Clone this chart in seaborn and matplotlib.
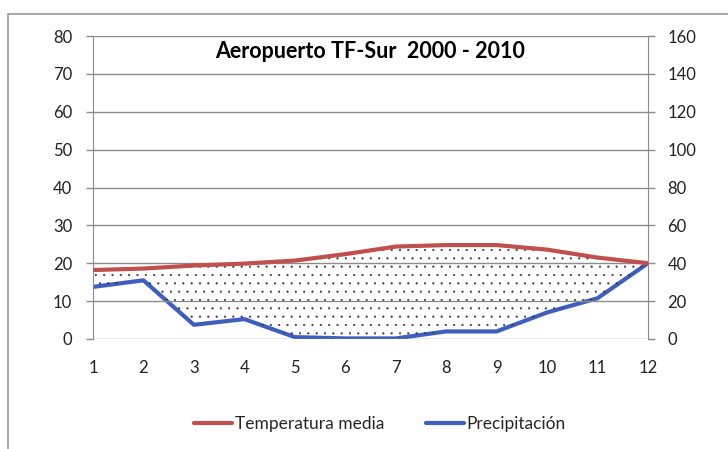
import numpy as np
import pandas as pd
import matplotlib
matplotlib.use("Agg")
import matplotlib.pyplot as plt
from matplotlib.lines import Line2D
import seaborn as sns

# --- Data ---
months = [1, 2, 3, 4, 5, 6, 7, 8, 9, 10, 11, 12]
temp_media = [18.2, 18.6, 19.4, 19.9, 20.7, 22.4, 24.4, 24.8, 24.8, 23.6, 21.5, 20.0]
precipitacion = [27.5, 31.0, 7.5, 10.5, 1.0, 0.3, 0.3, 4.0, 4.0, 14.0, 21.5, 40.0]
left_ticks = [0, 10, 20, 30, 40, 50, 60, 70, 80]
right_ticks = [0, 20, 40, 60, 80, 100, 120, 140, 160]
titulo = "Aeropuerto TF-Sur  2000 - 2010"

df = pd.DataFrame({"Mes": months, "Temperatura media": temp_media,
                   "Precipitación": precipitacion})

sns.set_style("white")
plt.rcParams['font.family'] = ['Lato', 'DejaVu Sans']
plt.rcParams['hatch.linewidth'] = 0.3

red = "#C0504D"
blue = "#3F5FBF"
grid_c = "#8C8C8C"

fig = plt.figure(figsize=(7.28, 4.49), dpi=100)
ax = fig.add_axes([0.1277, 0.245, 0.7623, 0.6748])
ax2 = ax.twinx()

# dry period stipple between temperature and precipitation (P = 2T scale)
p_half = df["Precipitación"] / 2
ax.fill_between(df["Mes"], df["Temperatura media"], p_half,
                where=df["Temperatura media"] >= p_half, interpolate=True,
                facecolor="none", edgecolor="#333333", hatch="..", linewidth=0)

sns.lineplot(data=df, x="Mes", y="Temperatura media", ax=ax, color=red,
             linewidth=3.0, zorder=4)
sns.lineplot(data=df, x="Mes", y="Precipitación", ax=ax2, color=blue,
             linewidth=3.0, zorder=4)

ax.set_xlim(1, 12)
ax.set_ylim(0, 80)
ax2.set_ylim(0, 160)
ax.set_yticks(left_ticks)
ax2.set_yticks(right_ticks)
ax.set_xticks(months)
# tick marks sit between the categories (Excel style)
ax.set_xticks([1] + [m + 0.5 for m in months[:-1]] + [12], minor=True)
ax.set_xlabel("")
ax.set_ylabel("")
ax2.set_ylabel("")

for y in left_ticks:
    ax.axhline(y, color=grid_c, linewidth=1.0, zorder=1)

for a in (ax, ax2):
    for s in a.spines.values():
        s.set_visible(False)
ax.spines["left"].set_visible(True)
ax.spines["left"].set_color(grid_c)
ax2.spines["right"].set_visible(True)
ax2.spines["right"].set_color(grid_c)

ax.tick_params(axis="y", length=5, width=1, color=grid_c, labelsize=12,
               labelcolor="#222222", direction="out", pad=10)
ax.tick_params(axis="x", which="major", length=0, labelsize=12,
               labelcolor="#222222", pad=15)
ax.tick_params(axis="x", which="minor", length=5, width=1, color=grid_c,
               direction="out")
ax2.tick_params(axis="y", length=5, width=1, color=grid_c, labelsize=12,
                labelcolor="#222222", direction="out", pad=9)
ax.set_zorder(ax2.get_zorder() + 1)
ax.patch.set_visible(False)

ax.text(0.5, 0.985, titulo, transform=ax.transAxes, ha="center", va="top",
        fontsize=15.5, fontweight="bold", color="black")

handles = [Line2D([0], [0], color=red, linewidth=3.0),
           Line2D([0], [0], color=blue, linewidth=3.0)]
fig.legend(handles, ["Temperatura media", "Precipitación"], loc="center",
           bbox_to_anchor=(0.522, 0.056), ncol=2, frameon=False, fontsize=12.5,
           handlelength=2.2, handletextpad=0.15, columnspacing=2.4)

# outer chart frame
fig.add_artist(Line2D([0.011, 1.0], [0.969, 0.969], color="#9A9A9A",
                      linewidth=1.2, transform=fig.transFigure))
fig.add_artist(Line2D([0.011, 0.011], [0.0, 0.969], color="#9A9A9A",
                      linewidth=1.2, transform=fig.transFigure))

fig.savefig("out.png", dpi=100, facecolor="white")
